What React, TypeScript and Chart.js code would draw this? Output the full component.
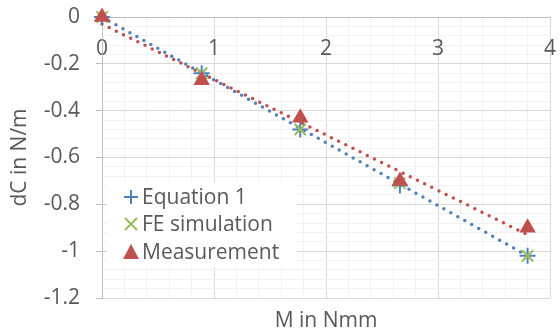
import React, { useEffect, useRef } from "react";
import { Chart, registerables } from "chart.js";

Chart.register(...registerables);

const xValues = [0, 0.89, 1.77, 2.66, 3.8];
const equation1 = [0, -0.24, -0.48, -0.72, -1.02];
const feSimulation = [0, -0.24, -0.48, -0.71, -1.02];
const measurement = [0, -0.27, -0.43, -0.7, -0.9];
const trendX = [0, 3.8];
const equationTrend = [0, -1.02];
const measurementTrend = [-0.03, -0.93];

const seriesNames = ["Equation 1", "FE simulation", "Measurement"];
const xTitle = "M in Nmm";
const yTitle = "dC in N/m";

const BLUE = "#4F81BD";
const GREEN = "#9BBB59";
const RED = "#C0504D";
const TEXT = "#595959";
const FONT = "'Open Sans', sans-serif";
const FS = 21;

const pts = (xs: number[], ys: number[]) => xs.map((x, i) => ({ x, y: ys[i] }));

const isMult = (v: number, step: number) => Math.abs(v / step - Math.round(v / step)) < 1e-6;

const legendPlugin = {
  id: "customLegend",
  afterDraw(chart: any) {
    const ctx = chart.ctx;
    const left = 107, top = 183, w = 190, h = 84;
    ctx.save();
    ctx.fillStyle = "#ffffff";
    ctx.fillRect(left, top, w, h);
    const mx = 131;
    const rows = [197, 224, 252];
    ctx.strokeStyle = BLUE;
    ctx.lineWidth = 2;
    ctx.beginPath();
    ctx.moveTo(mx - 7, rows[0]);
    ctx.lineTo(mx + 7, rows[0]);
    ctx.moveTo(mx, rows[0] - 7);
    ctx.lineTo(mx, rows[0] + 7);
    ctx.stroke();
    ctx.strokeStyle = GREEN;
    ctx.beginPath();
    ctx.moveTo(mx - 6, rows[1] - 6);
    ctx.lineTo(mx + 6, rows[1] + 6);
    ctx.moveTo(mx + 6, rows[1] - 6);
    ctx.lineTo(mx - 6, rows[1] + 6);
    ctx.stroke();
    ctx.fillStyle = RED;
    ctx.beginPath();
    ctx.moveTo(mx, rows[2] - 8);
    ctx.lineTo(mx + 8, rows[2] + 7);
    ctx.lineTo(mx - 8, rows[2] + 7);
    ctx.closePath();
    ctx.fill();
    ctx.fillStyle = TEXT;
    ctx.font = `${FS}px ${FONT}`;
    ctx.textBaseline = "middle";
    ctx.textAlign = "left";
    seriesNames.forEach((n, i) => ctx.fillText(n, 142, rows[i] + 1));
    ctx.restore();
  },
};

export default function App() {
  const ref = useRef<HTMLCanvasElement>(null);
  useEffect(() => {
    if (!ref.current) return;
    const zeroPad = (s: any) => {
      s.paddingTop = 0;
      s.paddingBottom = 0;
      s.paddingLeft = 0;
      s.paddingRight = 0;
    };
    const chart = new Chart(ref.current, {
      type: "scatter",
      data: {
        datasets: [
          {
            label: "trendEq",
            data: pts(trendX, equationTrend),
            showLine: true,
            borderColor: BLUE,
            borderWidth: 3.5,
            borderDash: [0, 8],
            borderCapStyle: "round",
            pointRadius: 0,
            order: 5,
            clip: false,
          },
          {
            label: "trendMeas",
            data: pts(trendX, measurementTrend),
            showLine: true,
            borderColor: RED,
            borderWidth: 3.5,
            borderDash: [0, 8],
            borderCapStyle: "round",
            pointRadius: 0,
            order: 4,
            clip: false,
          },
          {
            label: seriesNames[0],
            data: pts(xValues, equation1),
            pointStyle: "cross",
            pointRadius: 8,
            borderColor: BLUE,
            backgroundColor: BLUE,
            pointBorderWidth: 2,
            order: 3,
            clip: false,
          },
          {
            label: seriesNames[1],
            data: pts(xValues, feSimulation),
            pointStyle: "crossRot",
            pointRadius: 8,
            borderColor: GREEN,
            backgroundColor: GREEN,
            pointBorderWidth: 2,
            order: 2,
            clip: false,
          },
          {
            label: seriesNames[2],
            data: pts(xValues, measurement),
            pointStyle: "triangle",
            pointRadius: 9.5,
            borderColor: RED,
            backgroundColor: RED,
            pointBorderWidth: 0,
            order: 1,
            clip: false,
          },
        ],
      },
      options: {
        animation: false,
        responsive: false,
        events: [],
        layout: { padding: { left: 0, top: 17, right: 4, bottom: 0 } },
        plugins: { legend: { display: false }, tooltip: { enabled: false } },
        scales: {
          x: {
            type: "linear",
            position: { y: 0 } as any,
            min: 0,
            max: 4,
            afterFit: zeroPad,
            ticks: {
              stepSize: 0.2,
              autoSkip: false,
              maxRotation: 0,
              padding: 19,
              color: TEXT,
              font: { family: FONT, size: FS },
              callback: (v: any) => (isMult(Number(v), 1) ? String(Math.round(Number(v))) : ""),
            },
            grid: {
              drawTicks: false,
              color: (c: any) => (c.tick && isMult(c.tick.value, 1) ? "#d9d9d9" : "#f2f2f2"),
              lineWidth: 1,
            },
            border: { display: true, color: "#bfbfbf", width: 1 },
          },
          x2: {
            type: "linear",
            position: "bottom",
            min: 0,
            max: 4,
            afterFit: (s: any) => {
              zeroPad(s);
              s.height = 35;
            },
            ticks: { display: false },
            grid: { display: false, drawTicks: false },
            border: { display: false },
            title: {
              display: true,
              text: xTitle,
              color: TEXT,
              font: { family: FONT, size: FS },
              padding: { top: 0, bottom: -1 },
            },
          },
          y: {
            type: "linear",
            position: "left",
            min: -1.2,
            max: 0,
            afterFit: (s: any) => {
              zeroPad(s);
              s.width = 102;
            },
            ticks: {
              stepSize: 0.04,
              autoSkip: false,
              padding: 16,
              color: TEXT,
              font: { family: FONT, size: FS },
              callback: (v: any) => {
                const n = Number(v);
                if (!isMult(n, 0.2)) return "";
                const r = Math.round(n * 10) / 10;
                return r === 0 ? "0" : String(r);
              },
            },
            grid: {
              tickLength: 6,
              color: (c: any) => (c.tick && isMult(c.tick.value, 0.2) ? "#d9d9d9" : "#f2f2f2"),
              tickColor: (c: any) => (c.tick && isMult(c.tick.value, 0.2) ? "#bfbfbf" : "rgba(0,0,0,0)"),
              lineWidth: 1,
            },
            border: { display: true, color: "#bfbfbf", width: 1 },
            title: {
              display: true,
              text: yTitle,
              color: TEXT,
              font: { family: FONT, size: FS },
              padding: { top: 7, bottom: 0 },
            },
          },
        },
      },
      plugins: [legendPlugin],
    } as any);
    return () => chart.destroy();
  }, []);
  return (
    <div style={{ position: "fixed", left: 0, top: 0, width: 560, height: 333, background: "#fff" }}>
      <canvas ref={ref} width={560} height={333} />
    </div>
  );
}
